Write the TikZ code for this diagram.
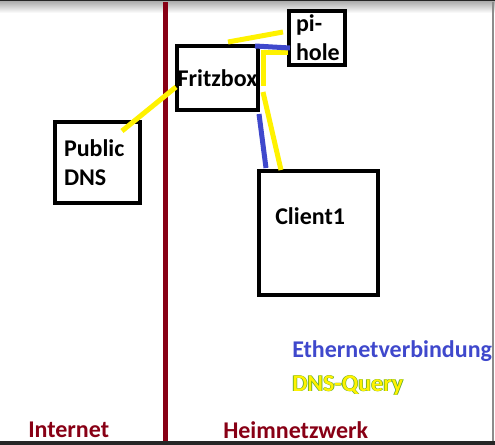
\documentclass[tikz,border=0pt]{standalone}
\usepackage{fontspec}
\setmainfont{Carlito}
\usetikzlibrary{
  positioning,
  calc
}
\definecolor{nwRed}{HTML}{880015}
\definecolor{nwBlue}{HTML}{3F48CC}
\definecolor{nwYellow}{HTML}{FFF200}
\definecolor{nwGreen}{HTML}{4CA02A}
\newcommand{\dnsquery}{%
  \makebox[0pt][l]{\hspace{-0.5pt}\textcolor{nwGreen}{DNS-Query}}%
  \makebox[0pt][l]{\hspace{0.5pt}\textcolor{nwGreen}{DNS-Query}}%
  \textcolor{nwYellow}{DNS-Query}}

\begin{document}
\begin{tikzpicture}[
  x=0.75pt, y=-0.75pt,
  every node/.style={font=\fontsize{18}{21.75}\selectfont\bfseries, inner sep=0pt},
  box/.style={rectangle, draw=black, line width=3pt, inner sep=0pt},
  eth/.style={nwBlue, line width=3.75pt},
  query/.style={nwYellow, line width=3.75pt},
  lbl/.style={anchor=base west}
]
 \useasboundingbox (0,0) rectangle (495,445);

 % window frame of the screenshot
 \fill[black!85] (0,0) rectangle (495,2);
 \shade[top color=black!30, bottom color=white] (0,2) rectangle (495,13);
 \fill[black!85] (0,441) rectangle (495,445);
 \fill[black!45] (492,2) rectangle (494,441);

 % Internet | Heimnetzwerk divider
 \draw[nwRed, line width=3.75pt] (165,2) -- (165,441);

 % Devices
 \node[box, minimum width=60.75pt, minimum height=48pt] (fritz) at (217.5,78) {Fritzbox};
 \node[box, minimum width=42pt, minimum height=40.5pt,
   text width=31.5pt, align=left] (pihole) at (317,38) {pi-\\hole};
 \node[box, minimum width=63.75pt, minimum height=60.75pt,
   text width=50.25pt, align=left] (pubdns) at (97.5,162.5) {Public\\DNS};
 \node[box, minimum width=89.25pt, minimum height=93pt] (client) at (318.5,233) {};
 \node[lbl] (clientlbl) at ($(client.north west)+(18,55)$) {Client1};

 % DNS queries
 \draw[query] ($(pubdns.north east)+(-20,11)$) -- ($(fritz.west)+(1,9)$);
 \draw[query] ($(fritz.north)+(10.5,-2)$) -- ($(pihole.west)+(-4,-6)$);
 \draw[query] ($(pihole.west)+(1,15)$) -| ($(fritz.east)+(3,8)$);
 \draw[query] ($(fritz.east)+(3,14)$) -- ($(client.north west)+(24,1)$);

 % Ethernet
 \draw[eth] ($(fritz.north east)+(-5,2)$) -- ($(pihole.west)+(3,10)$);
 \draw[eth] ($(fritz.south east)+(-1,2)$) -- ($(client.north west)+(9,-1)$);

 % Legend and zones
 \node[lbl, text=nwBlue] (ethlbl) at (292,357) {Ethernetverbindung};
 \node[lbl] (dnslbl) at (292,391) {\dnsquery};
 \node[lbl, text=nwRed] (inet) at (28,437) {Internet};
 \node[lbl, text=nwRed] (home) at (223,438) {Heimnetzwerk};
\end{tikzpicture}
\end{document}
